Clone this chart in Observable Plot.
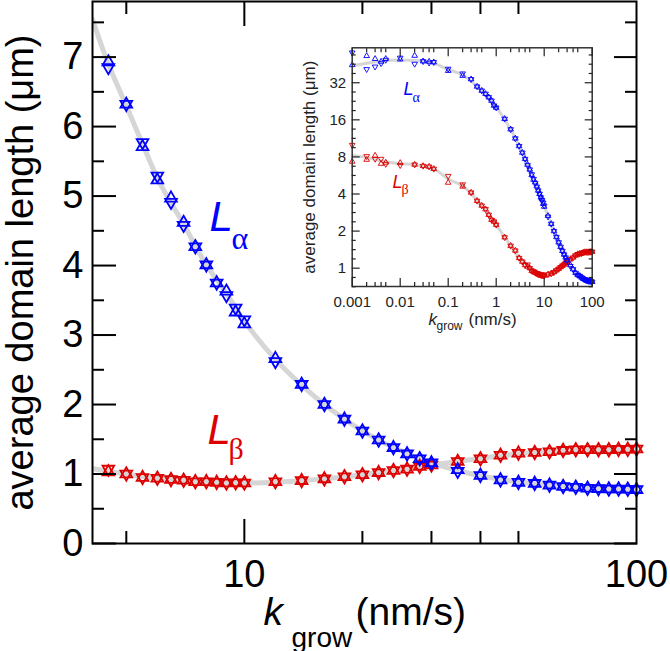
<!DOCTYPE html>
<html>
<head>
<meta charset="utf-8">
<script src="https://cdn.jsdelivr.net/npm/d3@7"></script>
<script src="https://cdn.jsdelivr.net/npm/@observablehq/plot@0.6"></script>
<style>
  body { margin: 0; background: #fff; }
  #wrap { position: relative; width: 670px; height: 651px; overflow: hidden; background: #fff; }
  #wrap svg { position: absolute; }
</style>
</head>
<body>
<div id="wrap"></div>
<script>
// ---------------- data (main panel) ----------------
const kMain = [4.5,5,5.5,6,6.5,7,7.5,8,8.5,9,9.5,10,12,14,16,18,20,22,24,26,28,30,35,40,45,50,55,60,65,70,75,80,85,90,95,100];
const alphaUp   = [6.93,6.32,5.71,5.23,4.97,4.62,4.27,4.01,3.75,3.63,3.33,3.16,2.66,2.29,2.00,1.79,1.62,1.49,1.38,1.29,1.22,1.16,1.06,0.98,0.915,0.88,0.865,0.84,0.82,0.81,0.795,0.79,0.785,0.785,0.78,0.775];
const alphaDown = [6.85,6.32,5.77,5.29,4.91,4.58,4.27,4.01,3.75,3.57,3.39,3.22,2.62,2.29,2.00,1.79,1.62,1.49,1.38,1.29,1.22,1.16,1.04,0.98,0.915,0.88,0.865,0.84,0.82,0.81,0.795,0.79,0.785,0.785,0.78,0.775];
const betaUp    = [1.03,1.00,0.95,0.94,0.92,0.91,0.89,0.89,0.88,0.87,0.875,0.87,0.89,0.905,0.93,0.96,0.99,1.02,1.05,1.07,1.11,1.13,1.18,1.22,1.27,1.30,1.31,1.32,1.34,1.35,1.35,1.35,1.35,1.355,1.355,1.36];
const betaDown  = [1.07,1.00,0.95,0.94,0.92,0.91,0.89,0.89,0.88,0.87,0.875,0.87,0.89,0.905,0.93,0.96,0.99,1.02,1.05,1.07,1.11,1.13,1.18,1.22,1.27,1.30,1.31,1.32,1.34,1.35,1.35,1.35,1.35,1.355,1.355,1.36];

// fitted curves (grey)
const fitKMain     = [4.1,4.5,5,5.5,6,6.5,7,7.5,8,9,10,12,14,16,18,20,24,30,35,40,50,60,70,80,100];
const fitAlphaMain = [7.54,6.9,6.3,5.75,5.26,4.9,4.6,4.28,4.01,3.6,3.2,2.65,2.28,2.0,1.79,1.62,1.38,1.16,1.05,0.975,0.885,0.84,0.81,0.79,0.775];
const fitBetaMain  = [1.08,1.04,1.0,0.965,0.94,0.92,0.905,0.895,0.885,0.875,0.87,0.882,0.903,0.93,0.96,0.99,1.05,1.13,1.18,1.225,1.29,1.325,1.34,1.35,1.36];

// ---------------- data (inset, low k part) ----------------
const kLow = [0.001,0.002,0.003,0.004,0.005,0.01,0.02,0.03,0.04,0.05,0.1,0.2,0.3,0.4,0.5,0.6,0.7,0.8,0.9,1,1.5,2,2.5,3,3.5,4];
const alphaLowUp   = [44.6,52.8,50,47.5,50,49.5,53.1,47.8,47.5,47,40,36.5,34.2,29.8,27.6,26,24.4,22.9,20.9,20.1,16.3,13.4,11.3,9.8,8.67,7.7];
const alphaLowDown = [56.2,41.2,43.2,46,49,51,45.5,47.8,46.5,47,41.5,38,34.2,29.8,27.6,26,24.4,22.9,20.9,20.1,16.3,13.4,11.3,9.8,8.67,7.7];
const betaLowUp    = [7.33,7.6,8.2,7.05,7.2,7.15,6.93,6.76,6.67,6.4,4.95,4.6,4.11,3.52,3.22,3.01,2.71,2.47,2.39,2.25,1.78,1.52,1.39,1.21,1.13,1.06];
const betaLowDown  = [10.0,8.1,7.7,7.7,7.0,6.85,6.93,6.76,6.67,6.4,5.6,4.78,4.11,3.52,3.22,3.01,2.71,2.47,2.39,2.25,1.78,1.52,1.39,1.21,1.13,1.06];
const fitKLow     = [0.001,0.002,0.005,0.01,0.02,0.05,0.1,0.2,0.5,1,2,3];
const fitAlphaLow = [44,46,48.5,49,48.5,46,41,37,27.5,20.3,13.4,9.8];
const fitBetaLow  = [8.2,7.9,7.3,7.05,6.9,6.4,5.3,4.65,3.22,2.25,1.52,1.21];

// tick values
const yMainMajor = [0,1,2,3,4,5,6,7];
const yMainMinor = [0.5,1.5,2.5,3.5,4.5,5.5,6.5,7.5];
const xMainLabels = [10,100];
const xMainMajor = [10];
const xMainMinor = [5,20,30,40,50];
const xInsetMajor = [0.001,0.01,0.1,1,10,100];
const xInsetMinor = [0.002,0.003,0.004,0.005,0.02,0.03,0.04,0.05,0.2,0.3,0.4,0.5,2,3,4,5,20,30,40,50];
const yInsetMajor = [1,2,4,8,16,32];
const yInsetMinor = d3.range(-0.5, 6, 0.25).filter(e => e % 1 !== 0).map(e => Math.pow(2, e));

const BLUE = "#0000ff", RED = "#dd0000", GREY = "#d6d6d6";
const FONT = "'Liberation Sans', Arial, Helvetica, sans-serif";
const SERIF = "'Liberation Serif', 'Times New Roman', serif";

// ---------------- tables ----------------
const rows = (ks, a, b) => ks.map((k, i) => ({k, up: a[i], down: b[i]}));
const mainAlpha = rows(kMain, alphaUp, alphaDown);
const mainBeta  = rows(kMain, betaUp, betaDown);
const fitA = fitKMain.map((k, i) => ({k, v: fitAlphaMain[i]}));
const fitB = fitKMain.map((k, i) => ({k, v: fitBetaMain[i]}));
const insAlpha = rows(kLow.concat(kMain), alphaLowUp.concat(alphaUp), alphaLowDown.concat(alphaDown));
const insBeta  = rows(kLow.concat(kMain), betaLowUp.concat(betaUp), betaLowDown.concat(betaDown));
const insFitA = fitKLow.map((k, i) => ({k, v: fitAlphaLow[i]})).concat(fitA);
const insFitB = fitKLow.map((k, i) => ({k, v: fitBetaLow[i]})).concat(fitB);

// triangle symbols (up / down), sharing a centroid -> star of David when equal
function tri(dir) {
  return {
    draw(ctx, size) {
      const s = Math.sqrt(size) * 1.1, h = s * Math.sqrt(3) / 2;
      ctx.moveTo(0, -dir * 2 * h / 3);
      ctx.lineTo(s / 2, dir * h / 3);
      ctx.lineTo(-s / 2, dir * h / 3);
      ctx.closePath();
    }
  };
}
const triUp = tri(1), triDown = tri(-1);

function markers(data, color, r, sw) {
  return [
    Plot.dot(data, {x: "k", y: "up", symbol: triUp, r, stroke: color, fill: "none", strokeWidth: sw}),
    Plot.dot(data, {x: "k", y: "down", symbol: triDown, r, stroke: color, fill: "none", strokeWidth: sw})
  ];
}

// ---------------- main plot ----------------
const mL = 92, mT = 1;
const main = Plot.plot({
  width: 670, height: 651,
  marginLeft: mL, marginRight: 34, marginTop: mT, marginBottom: 108,
  style: {fontFamily: FONT, background: "none", color: "black"},
  x: {type: "log", domain: [4.1, 100]},
  y: {domain: [0, 7.8]},
  marks: [
    Plot.line(fitA, {x: "k", y: "v", stroke: GREY, strokeWidth: 5, curve: "catmull-rom", clip: true}),
    Plot.line(fitB, {x: "k", y: "v", stroke: GREY, strokeWidth: 5, curve: "catmull-rom", clip: true}),
    ...markers(mainBeta, RED, 6, 1.8),
    ...markers(mainAlpha, BLUE, 6, 1.8),
    Plot.frame({stroke: "black", strokeWidth: 2}),
    // y axis labels + ticks (inward)
    Plot.axisY(yMainMajor, {anchor: "left", tickSize: 0, tickPadding: 9, fontSize: 38, label: null, tickFormat: d => String(d)}),
    Plot.axisY(yMainMajor, {anchor: "left", tickSize: -24, fill: "none", strokeWidth: 2, label: null}),
    Plot.axisY(yMainMinor, {anchor: "left", tickSize: -12, fill: "none", strokeWidth: 2, label: null}),
    Plot.axisY(yMainMajor, {anchor: "right", tickSize: -23, fill: "none", strokeWidth: 2, label: null}),
    Plot.axisY(yMainMinor, {anchor: "right", tickSize: -12, fill: "none", strokeWidth: 2, label: null}),
    // x axis
    Plot.axisX(xMainLabels, {anchor: "bottom", tickSize: 0, tickPadding: 17, fontSize: 38, label: null, tickFormat: d => String(d)}),
    Plot.axisX(xMainMajor, {anchor: "bottom", tickSize: -24, fill: "none", strokeWidth: 2, label: null}),
    Plot.axisX(xMainMinor, {anchor: "bottom", tickSize: -12, fill: "none", strokeWidth: 2, label: null}),
    Plot.axisX(xMainMajor, {anchor: "top", tickSize: -24, fill: "none", strokeWidth: 2, label: null}),
    Plot.axisX(xMainMinor, {anchor: "top", tickSize: -12, fill: "none", strokeWidth: 2, label: null}),
    // axis titles
    Plot.text(["average domain length (μm)"], {frameAnchor: "left", rotate: -90, dx: -72, fontSize: 38, textAnchor: "middle", lineAnchor: "middle"}),
    Plot.text(["k"], {frameAnchor: "bottom", dx: 263 - 364, dy: 624 - 543, fontSize: 39, fontStyle: "italic", textAnchor: "start", lineAnchor: "bottom"}),
    Plot.text(["grow"], {frameAnchor: "bottom", dx: 291 - 364, dy: 646 - 543, fontSize: 28, textAnchor: "start", lineAnchor: "bottom"}),
    Plot.text(["(nm/s)"], {frameAnchor: "bottom", dx: 355 - 364, dy: 624 - 543, fontSize: 39, textAnchor: "start", lineAnchor: "bottom"}),
    // series labels
    Plot.text(["L"], {frameAnchor: "top-left", dx: 209 - mL, dy: 230 - mT, fontSize: 42, fontStyle: "italic", fill: BLUE, textAnchor: "start", lineAnchor: "bottom"}),
    Plot.text(["α"], {frameAnchor: "top-left", dx: 231 - mL, dy: 248 - mT, fontSize: 32, fontFamily: SERIF, fill: BLUE, textAnchor: "start", lineAnchor: "bottom"}),
    Plot.text(["L"], {frameAnchor: "top-left", dx: 207 - mL, dy: 443 - mT, fontSize: 42, fontStyle: "italic", fill: RED, textAnchor: "start", lineAnchor: "bottom"}),
    Plot.text(["β"], {frameAnchor: "top-left", dx: 228 - mL, dy: 458 - mT, fontSize: 30, fontFamily: SERIF, fill: RED, textAnchor: "start", lineAnchor: "bottom"})
  ]
});
main.style.left = "0px"; main.style.top = "0px";
document.getElementById("wrap").appendChild(main);

// ---------------- inset ----------------
const iLeft = 280, iTop = 40, iW = 340, iH = 300;
const iFL = 351.7, iFT = 47.3, iFR = 591.7, iFB = 286;
const imL = iFL - iLeft, imT = iFT - iTop, imR = iLeft + iW - iFR, imB = iTop + iH - iFB;
const iCx = (iFL + iFR) / 2;
const inset = Plot.plot({
  width: iW, height: iH,
  marginLeft: imL, marginTop: imT, marginRight: imR, marginBottom: imB,
  style: {fontFamily: FONT, background: "none", color: "#222"},
  x: {type: "log", domain: [0.001, 100]},
  y: {type: "log", base: 2, domain: [0.71, 61.5]},
  marks: [
    Plot.frame({fill: "white", stroke: "none"}),
    Plot.line(insFitA, {x: "k", y: "v", stroke: GREY, strokeWidth: 3, curve: "catmull-rom", clip: true}),
    Plot.line(insFitB, {x: "k", y: "v", stroke: GREY, strokeWidth: 3, curve: "catmull-rom", clip: true}),
    ...markers(insBeta, RED, 2.9, 0.9),
    ...markers(insAlpha, BLUE, 2.9, 0.9),
    Plot.frame({stroke: "#333", strokeWidth: 1.5}),
    Plot.axisY(yInsetMajor, {anchor: "left", tickSize: 0, tickPadding: 6, fontSize: 15, label: null, tickFormat: d => String(d)}),
    Plot.axisY(yInsetMajor, {anchor: "left", tickSize: -8, fill: "none", strokeWidth: 1.2, label: null}),
    Plot.axisY(yInsetMinor, {anchor: "left", tickSize: -4, fill: "none", strokeWidth: 1.2, label: null}),
    Plot.axisY(yInsetMajor, {anchor: "right", tickSize: -8, fill: "none", strokeWidth: 1.2, label: null}),
    Plot.axisY(yInsetMinor, {anchor: "right", tickSize: -4, fill: "none", strokeWidth: 1.2, label: null}),
    Plot.axisX(xInsetMajor, {anchor: "bottom", tickSize: 0, tickPadding: 10, fontSize: 15, label: null, tickFormat: d => String(d)}),
    Plot.axisX(xInsetMajor, {anchor: "bottom", tickSize: -8, fill: "none", strokeWidth: 1.2, label: null}),
    Plot.axisX(xInsetMinor, {anchor: "bottom", tickSize: -4, fill: "none", strokeWidth: 1.2, label: null}),
    Plot.axisX(xInsetMajor, {anchor: "top", tickSize: -8, fill: "none", strokeWidth: 1.2, label: null}),
    Plot.axisX(xInsetMinor, {anchor: "top", tickSize: -4, fill: "none", strokeWidth: 1.2, label: null}),
    Plot.text(["average domain length (μm)"], {frameAnchor: "left", rotate: -90, dx: 309 - iFL, fontSize: 17, textAnchor: "middle", lineAnchor: "middle"}),
    Plot.text(["k"], {frameAnchor: "bottom", dx: 428 - iCx, dy: 324 - iFB, fontSize: 17, fontStyle: "italic", textAnchor: "start", lineAnchor: "bottom"}),
    Plot.text(["grow"], {frameAnchor: "bottom", dx: 436 - iCx, dy: 329 - iFB, fontSize: 12, textAnchor: "start", lineAnchor: "bottom"}),
    Plot.text(["(nm/s)"], {frameAnchor: "bottom", dx: 468 - iCx, dy: 324 - iFB, fontSize: 17, textAnchor: "start", lineAnchor: "bottom"}),
    Plot.text(["L"], {frameAnchor: "top-left", dx: 403 - iFL, dy: 94 - iFT, fontSize: 18, fontStyle: "italic", fill: BLUE, textAnchor: "start", lineAnchor: "bottom"}),
    Plot.text(["α"], {frameAnchor: "top-left", dx: 412 - iFL, dy: 101 - iFT, fontSize: 14, fontFamily: SERIF, fill: BLUE, textAnchor: "start", lineAnchor: "bottom"}),
    Plot.text(["L"], {frameAnchor: "top-left", dx: 392 - iFL, dy: 187 - iFT, fontSize: 18, fontStyle: "italic", fill: RED, textAnchor: "start", lineAnchor: "bottom"}),
    Plot.text(["β"], {frameAnchor: "top-left", dx: 401 - iFL, dy: 193 - iFT, fontSize: 14, fontFamily: SERIF, fill: RED, textAnchor: "start", lineAnchor: "bottom"})
  ]
});
inset.style.left = iLeft + "px"; inset.style.top = iTop + "px";
document.getElementById("wrap").appendChild(inset);
</script>
</body>
</html>
